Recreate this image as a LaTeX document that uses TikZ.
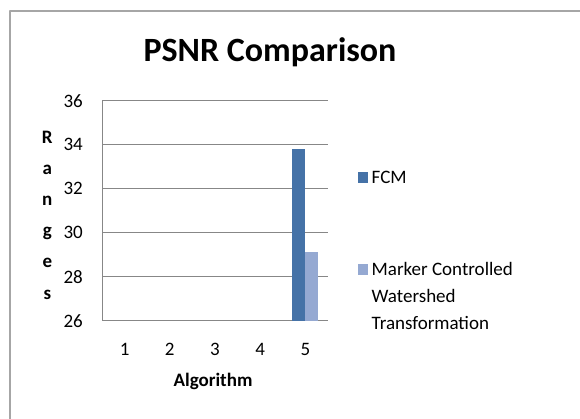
\documentclass[tikz,border=0pt]{standalone}
\usepackage{fontspec}
\setmainfont{Carlito}
\definecolor{fcmblue}{HTML}{4572A7}
\definecolor{mcwblue}{HTML}{95A9D2}
\definecolor{gridgray}{HTML}{878787}
\definecolor{framegray}{HTML}{A6A6A6}
\begin{document}
\begin{tikzpicture}[x=1pt, y=-1pt, font=\fontsize{19}{27}\selectfont, line join=round,
    grid/.style={draw=gridgray, line width=1pt},
    lbl/.style={inner sep=0pt}]
  \useasboundingbox (0,0) rectangle (580,418);
  \draw[framegray, line width=1.2pt] (584,11) -| (10,422);
  \node[lbl, font=\fontsize{34}{40}\selectfont\bfseries] (title) at (270,52) {PSNR Comparison};
  % value axis: 22pt per unit, 26 at y=320.7
  \foreach \v in {26,28,...,36}{
    \coordinate (g\v) at (102,{320.7-22*(\v-26)});
    \draw[grid] (g\v) -- ++(226,0);
    \node[lbl, anchor=east] (t\v) at ([xshift=-19pt]g\v) {\v};
  }
  \draw[grid] (g26) -- (g36);
  \foreach \c in {1,...,5}
    \node[lbl] (c\c) at ({124.6+45.2*(\c-1)},349) {\c};
  \node[lbl, font=\fontsize{19}{27}\selectfont\bfseries] (xtitle) at (213,381.5) {Algorithm};
  \node[lbl, align=center, font=\fontsize{19}{31.2}\selectfont\bfseries] (ytitle) at (47.3,215)
    {R\\a\\n\\g\\e\\s};
  % bars of category 5
  \fill[fcmblue] (292,320.7) rectangle (304.7,{320.7-22*(33.79-26)});
  \fill[mcwblue] (304.7,320.7) rectangle (317.7,{320.7-22*(29.14-26)});
  % legend
  \fill[fcmblue] (357.7,171.7) rectangle ++(10,11);
  \node[lbl, anchor=west] (lfcm) at (371.5,177) {FCM};
  \fill[mcwblue] (357.7,263.5) rectangle ++(10,11);
  \node[lbl, anchor=west, align=left] (lmcw) at (371.5,296) {Marker Controlled\\Watershed\\Transformation};
\end{tikzpicture}
\end{document}
